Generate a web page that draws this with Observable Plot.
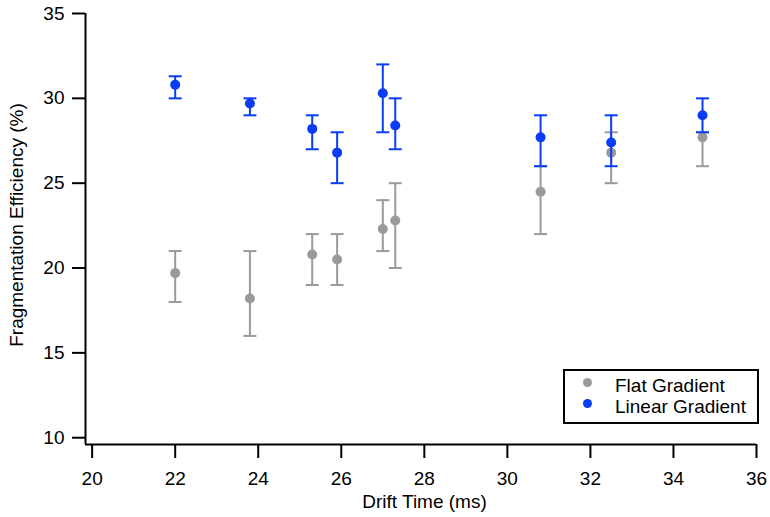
<!DOCTYPE html>
<html><head><meta charset="utf-8">
<script src="https://cdn.jsdelivr.net/npm/d3@7"></script>
<script src="https://cdn.jsdelivr.net/npm/@observablehq/plot@0.6"></script>
<style>
body{margin:0;background:#fff;}
#wrap{position:relative;width:770px;height:517px;font-family:"Liberation Sans",Arial,sans-serif;}
#legend{position:absolute;left:563px;top:369px;width:192px;height:51px;border:2px solid #000;background:#fff;font-size:19px;color:#000;}
#legend .row{position:absolute;left:50px;height:21px;line-height:21px;white-space:nowrap;}
#legend .dot{position:absolute;width:9px;height:9px;border-radius:50%;}
</style></head>
<body>
<div id="wrap"></div>
<script>
const driftTime = [22.0, 23.8, 25.3, 25.9, 27.0, 27.3, 30.8, 32.5, 34.7];
const flatEff   = [19.7, 18.2, 20.8, 20.5, 22.3, 22.8, 24.5, 26.8, 27.7];
const flatLow   = [18, 16, 19, 19, 21, 20, 22, 25, 26];
const flatHigh  = [21, 21, 22, 22, 24, 25, 26, 28, 28];
const linEff    = [30.8, 29.7, 28.2, 26.8, 30.3, 28.4, 27.7, 27.4, 29.0];
const linLow    = [30, 29, 27, 25, 28, 27, 26, 26, 28];
const linHigh   = [31.3, 30, 29, 28, 32, 30, 29, 29, 30];
const xTicks = [20, 22, 24, 26, 28, 30, 32, 34, 36];
const yTicks = [10, 15, 20, 25, 30, 35];
const xTitle = "Drift Time (ms)";
const yTitle = "Fragmentation Efficiency (%)";
const seriesNames = ["Flat Gradient", "Linear Gradient"];
const seriesColors = ["#9a9a9a", "#0a3cf5"];
const xDomain = [19.84, 36];
const yDomain = [9.6, 35];

const mk = (eff, lo, hi) => driftTime.map((t, i) => ({t, v: eff[i], lo: lo[i], hi: hi[i]}));
const flat = mk(flatEff, flatLow, flatHigh);
const lin = mk(linEff, linLow, linHigh);

const cap = {draw(ctx) { ctx.moveTo(-6.5, 0); ctx.lineTo(6.5, 0); }};

function errMarks(data, color) {
  return [
    Plot.ruleX(data, {x: "t", y1: "lo", y2: "hi", stroke: color, strokeWidth: 2}),
    Plot.dot(data, {x: "t", y: "lo", symbol: cap, stroke: color, strokeWidth: 2, fill: "none"}),
    Plot.dot(data, {x: "t", y: "hi", symbol: cap, stroke: color, strokeWidth: 2, fill: "none"}),
    Plot.dot(data, {x: "t", y: "v", r: 5, fill: color, stroke: "none"})
  ];
}

const chart = Plot.plot({
  width: 770, height: 517,
  marginLeft: 85, marginRight: 14, marginTop: 13, marginBottom: 73,
  style: {fontFamily: '"Liberation Sans", Arial, sans-serif', fontSize: "19px", color: "#000", background: "#fff"},
  x: {domain: xDomain},
  y: {domain: yDomain},
  marks: [
    Plot.axisX({ticks: xTicks, tickSize: 14, tickPadding: 13, strokeWidth: 2, fontSize: 19, label: null}),
    Plot.axisY({ticks: yTicks, tickSize: 13, tickPadding: 8, strokeWidth: 2, fontSize: 19, label: null}),
    Plot.text([xTitle], {text: d => d, frameAnchor: "bottom", textAnchor: "middle", dx: 3.5, dy: 63, fontSize: 19, fill: "#000"}),
    Plot.text([yTitle], {text: d => d, frameAnchor: "left", textAnchor: "middle", rotate: -90, dx: -69, dy: -4, fontSize: 19, fill: "#000"}),
    Plot.ruleX([xDomain[0]], {strokeWidth: 2}),
    Plot.ruleY([yDomain[0]], {strokeWidth: 2}),
    ...errMarks(flat, seriesColors[0]),
    ...errMarks(lin, seriesColors[1])
  ]
});
const wrap = document.getElementById("wrap");
wrap.appendChild(chart);

const legend = document.createElement("div");
legend.id = "legend";
seriesNames.forEach((name, i) => {
  const d = document.createElement("div");
  d.className = "dot";
  d.style.left = "17.5px"; d.style.top = (6.5 + 21 * i) + "px";
  d.style.background = seriesColors[i];
  legend.appendChild(d);
  const r = document.createElement("div");
  r.className = "row";
  r.style.top = (4 + 21 * i) + "px";
  r.textContent = name;
  legend.appendChild(r);
});
wrap.appendChild(legend);
</script>
</body></html>
